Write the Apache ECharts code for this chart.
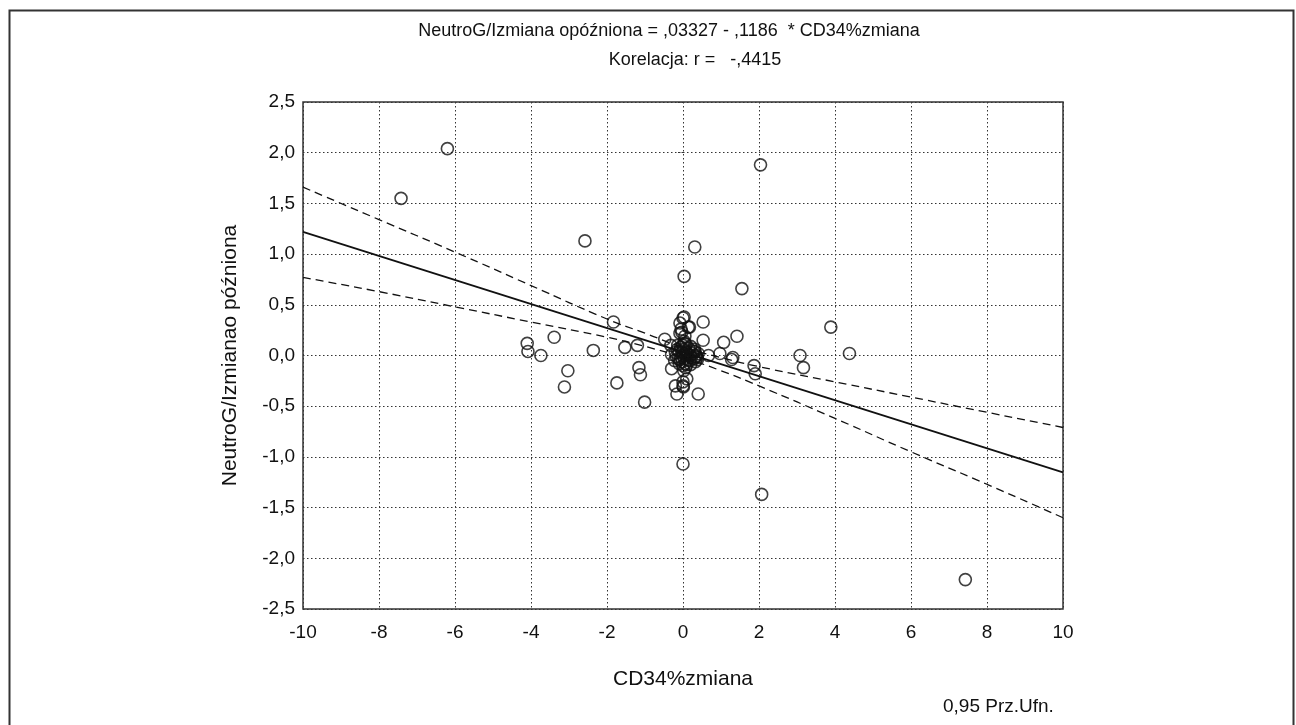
<!DOCTYPE html>
<html>
<head>
<meta charset="utf-8">
<script src="https://cdn.jsdelivr.net/npm/echarts@6/dist/echarts.min.js"></script>
<style>
html,body{margin:0;padding:0;background:#fff;}
#c{width:1296px;height:725px;}
</style>
</head>
<body>
<div id="c"></div>
<script>
// Scatter points [CD34%zmiana, NeutroG/Izmiana]
const outlierPoints = [
  [-6.2, 2.04], [-7.42, 1.55], [-2.58, 1.13], [2.04, 1.88], [0.31, 1.07],
  [0.03, 0.78], [1.55, 0.66], [3.89, 0.28], [4.38, 0.02], [3.08, 0.0],
  [3.17, -0.12], [7.43, -2.21], [2.07, -1.37], [0.0, -1.07]
];
const leftPoints = [
  [-1.83, 0.33], [-3.39, 0.18], [-4.1, 0.12], [-4.08, 0.04], [-3.74, 0.0],
  [-2.36, 0.05], [-1.53, 0.08], [-1.2, 0.10], [-0.48, 0.16], [-0.32, 0.10],
  [-0.3, 0.01], [-0.3, -0.13], [-3.03, -0.15], [-3.12, -0.31], [-1.16, -0.12],
  [-1.12, -0.19], [-1.74, -0.27], [-1.01, -0.46], [-0.2, -0.30], [-0.16, -0.38]
];
const rightPoints = [
  [0.53, 0.33], [0.53, 0.15], [1.42, 0.19], [1.07, 0.13], [0.97, 0.02],
  [0.67, 0.0], [1.31, -0.02], [1.28, -0.04], [1.87, -0.10], [1.9, -0.18],
  [0.4, -0.38], [0.17, 0.28], [0.32, 0.04], [0.34, -0.01], [0.37, -0.02],
  [0.1, -0.23], [0.02, -0.15], [0.0, -0.26], [0.0, -0.30], [0.01, -0.31]
];
const columnPoints = [
  [0.0, 0.37], [0.03, 0.38], [-0.08, 0.32], [0.14, 0.28], [-0.03, 0.23],
  [-0.08, 0.22], [0.03, 0.14], [0.05, 0.19], [-0.05, 0.26], [0.08, 0.11]
];
const centerPoints = [
  [0, 0], [0.05, 0.02], [-0.05, -0.02], [0.1, 0.03], [-0.1, 0.04], [0.02, 0.06],
  [-0.02, -0.06], [0.12, -0.04], [-0.12, -0.03], [0.2, 0.0], [0.25, 0.02],
  [0.18, -0.05], [-0.15, 0.06], [0.06, -0.08], [-0.06, 0.08], [0.15, 0.07],
  [0.08, 0.04], [-0.08, -0.04], [0.03, -0.03], [-0.03, 0.03], [0.22, -0.02],
  [0.28, 0.04], [0.1, -0.09], [-0.18, -0.01], [0.13, 0.01], [0.0, 0.1],
  [0.0, -0.1], [0.3, -0.03], [0.04, 0.12], [0.3, 0.06], [0.35, 0.0],
  [0.33, -0.06], [-0.2, 0.03], [-0.22, -0.05], [0.2, 0.09], [0.2, -0.09],
  [-0.1, -0.08], [0.4, 0.02], [0.38, -0.04], [-0.14, 0.1], [0.07, -0.12]
];
// Regression line (endpoints) and 0.95 confidence band
const fitLine = [[-10, 1.219], [10, -1.153]];
const bandX = [-10, -8, -6, -4, -2, -1, 0, 1, 2, 4, 6, 8, 10];
const bandUpper = [1.66, 1.34, 1.02, 0.69, 0.36, 0.22, 0.08, -0.02, -0.11, -0.26, -0.41, -0.56, -0.71];
const bandLower = [0.77, 0.63, 0.48, 0.33, 0.18, 0.09, -0.02, -0.15, -0.30, -0.62, -0.95, -1.27, -1.60];

const titleLine1 = 'NeutroG/Izmiana opóźniona = ,03327 - ,1186  * CD34%zmiana';
const titleLine2 = 'Korelacja: r =   -,4415';
const xName = 'CD34%zmiana';
const yName = 'NeutroG/Izmianao późniona';
const footNote = '0,95 Prz.Ufn.';

const FONT = '"Liberation Sans", Arial, Helvetica, sans-serif';
const allPoints = outlierPoints.concat(leftPoints, rightPoints, columnPoints, centerPoints);
const upperData = bandX.map((x, i) => [x, bandUpper[i]]);
const lowerData = bandX.map((x, i) => [x, bandLower[i]]);

const chart = echarts.init(document.getElementById('c'), null, {renderer: 'canvas'});
chart.setOption({
  backgroundColor: '#fff',
  animation: false,
  grid: {left: 303, top: 102, width: 760, height: 507, show: true, borderColor: '#333', borderWidth: 1.5, backgroundColor: 'transparent'},
  xAxis: {
    type: 'value', min: -10, max: 10, interval: 2,
    name: xName, nameLocation: 'middle', nameGap: 60,
    nameTextStyle: {fontFamily: FONT, fontSize: 21, color: '#111'},
    axisLine: {show: false},
    axisTick: {show: false},
    axisLabel: {fontFamily: FONT, fontSize: 19, color: '#111', margin: 14, formatter: v => String(v)},
    splitLine: {show: true, lineStyle: {color: '#333', width: 1, type: [1.5, 2.5]}}
  },
  yAxis: {
    type: 'value', min: -2.5, max: 2.5, interval: 0.5,
    name: yName, nameLocation: 'middle', nameGap: 62,
    nameTextStyle: {fontFamily: FONT, fontSize: 21, color: '#111'},
    axisLine: {show: false},
    axisTick: {show: true, inside: false, length: 6, lineStyle: {color: '#333', type: [1.5, 2]}},
    axisLabel: {fontFamily: FONT, fontSize: 19, color: '#111', margin: 8,
      formatter: v => v.toFixed(1).replace('.', ',')},
    splitLine: {show: true, lineStyle: {color: '#333', width: 1, type: [1.5, 2.5]}}
  },
  graphic: [
    {type: 'rect', left: 7, top: 8, shape: {width: 1284, height: 730},
      style: {fill: 'none', stroke: '#333', lineWidth: 2}, silent: true},
    {type: 'text', x: 669, y: 31, style: {text: titleLine1, font: '18px ' + FONT, fill: '#111', textAlign: 'center', textVerticalAlign: 'middle'}},
    {type: 'text', x: 695, y: 60, style: {text: titleLine2, font: '18px ' + FONT, fill: '#111', textAlign: 'center', textVerticalAlign: 'middle'}},
    {type: 'text', x: 943, y: 707, style: {text: footNote, font: '19px ' + FONT, fill: '#111', textAlign: 'left', textVerticalAlign: 'middle'}}
  ],
  series: [
    {type: 'line', data: fitLine, symbol: 'none', lineStyle: {color: '#111', width: 1.8}, z: 3},
    {type: 'line', data: upperData, smooth: true, symbol: 'none', lineStyle: {color: '#111', width: 1.3, type: [8, 5]}, z: 3},
    {type: 'line', data: lowerData, smooth: true, symbol: 'none', lineStyle: {color: '#111', width: 1.3, type: [8, 5]}, z: 3},
    {type: 'scatter', data: allPoints, symbol: 'circle', symbolSize: 12,
      itemStyle: {color: 'rgba(0,0,0,0)', borderColor: '#111', borderWidth: 1.6}, z: 4}
  ]
});
</script>
</body>
</html>
